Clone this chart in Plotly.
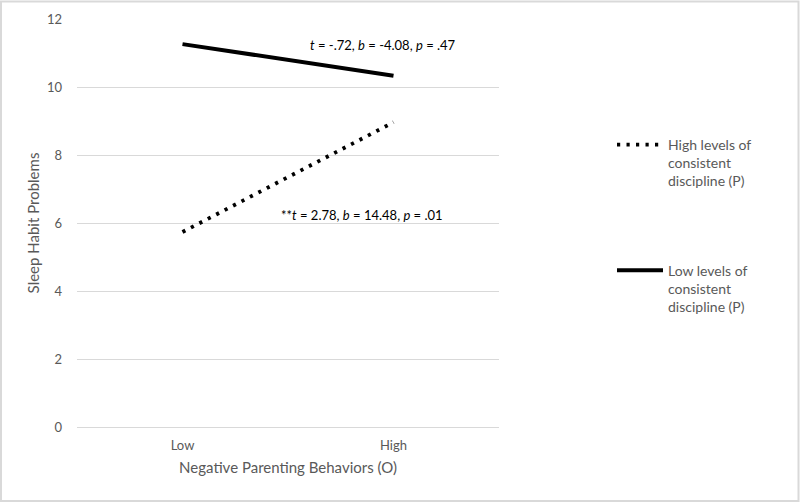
import plotly.graph_objects as go

categories = ["Low", "High"]
high_discipline = [5.74, 8.97]
low_discipline = [11.27, 10.34]
series_names = ["High levels of<br>consistent<br>discipline (P)", "Low levels of<br>consistent<br>discipline (P)"]
annot_low = "<i>t</i> = -.72, <i>b</i> = -4.08, <i>p</i> = .47"
annot_high = "**<i>t</i> = 2.78, <i>b</i> = 14.48, <i>p</i> = .01"
y_ticks = [0, 2, 4, 6, 8, 10, 12]

FONT = "Lato"
GRAY = "#595959"
W, H = 800, 502
ML, MR, MT, MB = 77, 301, 19, 75

fig = go.Figure()
fig.add_trace(go.Scatter(x=categories, y=high_discipline, mode="lines", name=series_names[0],
                         legendgroup="a",
                         line=dict(color="black", width=3.8, dash="3.2px,6.3px")))
fig.add_trace(go.Scatter(x=categories, y=low_discipline, mode="lines", name=series_names[1],
                         legendgroup="b",
                         line=dict(color="black", width=4)))

fig.add_annotation(x=0.95, y=11.24, xref="x", yref="y", text=annot_low,
                   showarrow=False, font=dict(family=FONT, size=13, color="black"))
fig.add_annotation(x=0.85, y=6.24, xref="x", yref="y", text=annot_high,
                   showarrow=False, font=dict(family=FONT, size=13, color="black"))

pw = W - ML - MR
ph = H - MT - MB
fig.add_shape(type="rect", xref="paper", yref="paper",
              x0=(-ML + 1) / pw, x1=(W - ML - 1.5) / pw,
              y0=(-MB + 1) / ph, y1=(H - MB - 1.5) / ph,
              line=dict(color="#d9d9d9", width=2), fillcolor="rgba(0,0,0,0)", layer="above")

fig.update_layout(
    width=W, height=H,
    margin=dict(l=ML, r=MR, t=MT, b=MB, autoexpand=False),
    plot_bgcolor="white", paper_bgcolor="white",
    font=dict(family=FONT, size=13, color=GRAY),
    legend=dict(x=(612 - ML) / pw, y=1 - (129 - MT) / ph, xanchor="left", yanchor="top", valign="top",
                font=dict(family=FONT, size=14, color=GRAY),
                tracegroupgap=68, traceorder="grouped", itemwidth=46,
                bgcolor="rgba(0,0,0,0)"),
    xaxis=dict(type="category", range=[-0.5, 1.5], showgrid=False, zeroline=False,
               showline=False, ticks="", ticklabelstandoff=9, automargin=False,
               tickfont=dict(family=FONT, size=13, color=GRAY),
               title=dict(text="Negative Parenting Behaviors (O)", standoff=10,
                          font=dict(family=FONT, size=15, color=GRAY))),
    yaxis=dict(range=[0, 12.01], tickvals=y_ticks, showgrid=True, gridcolor="#d9d9d9", gridwidth=1,
               zeroline=True, zerolinecolor="#d9d9d9", zerolinewidth=1, showline=False,
               ticks="", ticklabelstandoff=14, automargin=False,
               tickfont=dict(family=FONT, size=13, color=GRAY),
               title=dict(text="Sleep Habit Problems", standoff=3,
                          font=dict(family=FONT, size=15, color=GRAY))),
)

fig.write_html("out.html", config={"displayModeBar": False},
               post_script="document.body.style.margin='0';")
